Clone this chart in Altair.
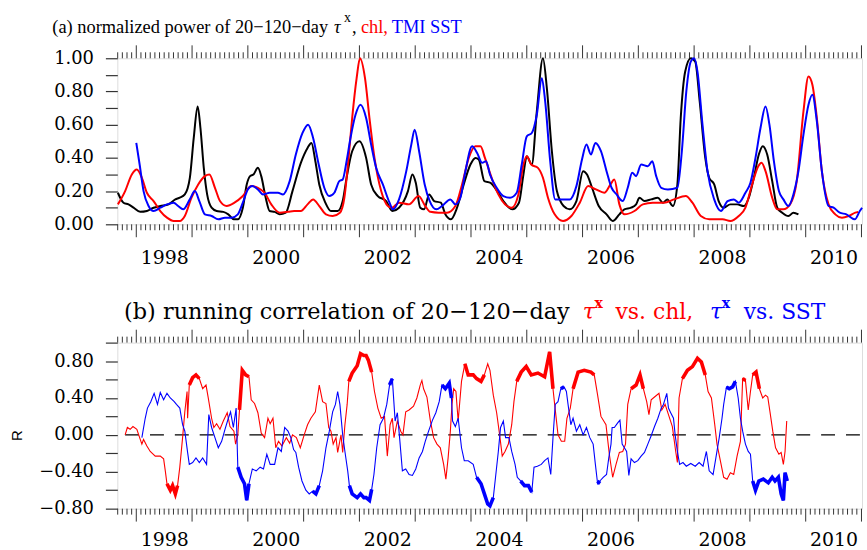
import altair as alt
import pandas as pd

# ---------------- panel (a): normalized power ----------------
a_taux = [(1997.67,0.19),(1997.77,0.13),(1997.86,0.12),(1997.95,0.10),(1998.07,0.075),(1998.19,0.08),(1998.31,0.10),
          (1998.43,0.11),(1998.58,0.12),(1998.70,0.15),(1998.78,0.16),(1998.87,0.18),(1998.96,0.28),(1999.03,0.52),
          (1999.10,0.71),(1999.15,0.58),(1999.21,0.34),(1999.27,0.18),(1999.35,0.10),(1999.44,0.08),(1999.56,0.075),
          (1999.65,0.06),(1999.75,0.03),(1999.82,0.03),(1999.91,0.10),(1999.98,0.24),(2000.04,0.29),(2000.10,0.30),
          (2000.18,0.34),(2000.24,0.29),(2000.32,0.16),(2000.39,0.08),(2000.48,0.075),(2000.57,0.06),(2000.68,0.07),
          (2000.80,0.20),(2000.95,0.37),(2001.07,0.46),(2001.14,0.49),(2001.21,0.38),(2001.28,0.24),(2001.39,0.13),
          (2001.49,0.08),(2001.61,0.08),(2001.70,0.14),(2001.77,0.28),(2001.87,0.44),(2002.00,0.50),(2002.12,0.40),
          (2002.21,0.24),(2002.33,0.17),(2002.48,0.14),(2002.59,0.08),(2002.71,0.10),(2002.87,0.20),(2002.95,0.30),
          (2003.01,0.25),(2003.09,0.10),(2003.16,0.09),(2003.25,0.18),(2003.34,0.14),(2003.46,0.13),(2003.54,0.06),
          (2003.64,0.03),(2003.75,0.10),(2003.87,0.24),(2003.99,0.36),(2004.08,0.40),(2004.14,0.39),(2004.24,0.26),
          (2004.35,0.25),(2004.47,0.20),(2004.58,0.14),(2004.74,0.09),(2004.86,0.13),(2004.94,0.30),(2005.00,0.41),
          (2005.09,0.36),(2005.18,0.68),(2005.29,1.00),(2005.36,0.82),(2005.45,0.44),(2005.54,0.20),(2005.66,0.11),
          (2005.77,0.09),(2005.89,0.14),(2006.01,0.32),(2006.08,0.30),(2006.17,0.22),(2006.29,0.11),(2006.43,0.06),
          (2006.54,0.02),(2006.66,0.06),(2006.75,0.09),(2006.87,0.10),(2006.96,0.12),(2007.02,0.16),(2007.11,0.14),
          (2007.23,0.15),(2007.35,0.16),(2007.44,0.13),(2007.52,0.15),(2007.62,0.11),(2007.70,0.24),(2007.76,0.64),
          (2007.84,0.92),(2007.94,1.00),(2008.02,0.98),(2008.10,0.74),(2008.20,0.40),(2008.27,0.28),(2008.36,0.24),
          (2008.44,0.14),(2008.53,0.10),(2008.65,0.12),(2008.77,0.12),(2008.89,0.11),(2008.98,0.16),(2009.07,0.28),
          (2009.16,0.42),(2009.23,0.47),(2009.31,0.42),(2009.40,0.26),(2009.49,0.10),(2009.58,0.07),(2009.69,0.05),
          (2009.78,0.07),(2009.87,0.06)]

a_chl = [(1997.67,0.12),(1997.80,0.20),(1997.92,0.30),(1998.01,0.33),(1998.10,0.28),(1998.19,0.19),(1998.31,0.14),
         (1998.43,0.08),(1998.55,0.04),(1998.67,0.02),(1998.78,0.02),(1998.87,0.05),(1998.99,0.16),(1999.11,0.24),
         (1999.23,0.29),(1999.31,0.30),(1999.41,0.22),(1999.50,0.14),(1999.62,0.11),(1999.76,0.13),(1999.91,0.17),
         (2000.06,0.23),(2000.18,0.22),(2000.30,0.19),(2000.42,0.12),(2000.57,0.07),(2000.72,0.075),(2000.83,0.08),
         (2000.95,0.08),(2001.07,0.12),(2001.17,0.15),(2001.28,0.11),(2001.40,0.06),(2001.52,0.05),(2001.65,0.07),
         (2001.73,0.16),(2001.80,0.38),(2001.87,0.64),(2001.95,0.88),(2002.01,1.00),(2002.10,0.88),(2002.18,0.64),
         (2002.27,0.40),(2002.39,0.20),(2002.51,0.11),(2002.58,0.10),(2002.71,0.13),(2002.89,0.12),(2003.06,0.17),
         (2003.18,0.11),(2003.27,0.075),(2003.42,0.07),(2003.57,0.07),(2003.72,0.11),(2003.84,0.24),(2003.96,0.40),
         (2004.08,0.47),(2004.17,0.47),(2004.25,0.40),(2004.37,0.28),(2004.49,0.18),(2004.61,0.12),(2004.73,0.10),
         (2004.85,0.18),(2004.94,0.36),(2005.00,0.41),(2005.08,0.36),(2005.20,0.34),(2005.29,0.28),(2005.38,0.16),
         (2005.50,0.06),(2005.65,0.02),(2005.80,0.05),(2005.95,0.13),(2006.10,0.23),(2006.24,0.21),(2006.39,0.19),
         (2006.50,0.24),(2006.57,0.27),(2006.66,0.12),(2006.75,0.06),(2006.93,0.08),(2007.08,0.12),(2007.26,0.13),
         (2007.46,0.13),(2007.64,0.15),(2007.85,0.17),(2007.97,0.13),(2008.12,0.05),(2008.27,0.03),(2008.51,0.03),
         (2008.65,0.02),(2008.80,0.05),(2008.92,0.10),(2009.04,0.24),(2009.15,0.35),(2009.21,0.37),(2009.28,0.32),
         (2009.40,0.16),(2009.49,0.09),(2009.60,0.09),(2009.72,0.12),(2009.84,0.26),(2009.96,0.68),(2010.05,0.89),
         (2010.12,0.84),(2010.20,0.64),(2010.29,0.32),(2010.41,0.12),(2010.53,0.06),(2010.65,0.04),(2010.77,0.05),
         (2010.89,0.07),(2010.94,0.075)]

a_sst = [(1998.00,0.49),(1998.06,0.36),(1998.13,0.20),(1998.22,0.11),(1998.31,0.08),(1998.43,0.10),(1998.55,0.12),
         (1998.67,0.13),(1998.75,0.11),(1998.84,0.09),(1998.96,0.15),(1999.05,0.20),(1999.13,0.14),(1999.23,0.06),
         (1999.35,0.05),(1999.47,0.03),(1999.59,0.04),(1999.71,0.04),(1999.82,0.06),(1999.91,0.13),(2000.00,0.21),
         (2000.08,0.23),(2000.18,0.21),(2000.27,0.18),(2000.39,0.19),(2000.54,0.19),(2000.63,0.18),(2000.75,0.26),
         (2000.86,0.42),(2000.98,0.55),(2001.08,0.60),(2001.17,0.52),(2001.27,0.36),(2001.37,0.22),(2001.46,0.17),
         (2001.55,0.19),(2001.64,0.26),(2001.70,0.27),(2001.77,0.38),(2001.84,0.52),(2001.93,0.66),(2002.02,0.72),
         (2002.12,0.64),(2002.21,0.48),(2002.30,0.34),(2002.42,0.24),(2002.54,0.13),(2002.60,0.09),(2002.71,0.15),
         (2002.84,0.32),(2002.93,0.48),(2002.99,0.57),(2003.07,0.44),(2003.17,0.24),(2003.26,0.14),(2003.38,0.09),
         (2003.48,0.11),(2003.63,0.15),(2003.72,0.12),(2003.81,0.16),(2003.90,0.32),(2004.02,0.47),(2004.11,0.43),
         (2004.20,0.37),(2004.27,0.38),(2004.34,0.30),(2004.46,0.22),(2004.58,0.17),(2004.70,0.16),(2004.82,0.19),
         (2004.91,0.36),(2005.00,0.53),(2005.09,0.55),(2005.18,0.66),(2005.27,0.88),(2005.33,0.74),(2005.42,0.38),
         (2005.51,0.15),(2005.63,0.15),(2005.77,0.15),(2005.89,0.23),(2005.99,0.39),(2006.07,0.48),(2006.15,0.42),
         (2006.23,0.49),(2006.33,0.44),(2006.43,0.32),(2006.52,0.22),(2006.61,0.18),(2006.72,0.14),(2006.81,0.22),
         (2006.89,0.31),(2006.96,0.29),(2007.05,0.36),(2007.17,0.35),(2007.25,0.38),(2007.32,0.29),(2007.41,0.22),
         (2007.53,0.21),(2007.70,0.22),(2007.78,0.44),(2007.86,0.80),(2007.94,0.98),(2008.00,1.00),(2008.06,0.92),
         (2008.15,0.60),(2008.24,0.32),(2008.36,0.15),(2008.48,0.08),(2008.60,0.14),(2008.71,0.15),(2008.80,0.13),
         (2008.92,0.19),(2009.01,0.25),(2009.10,0.40),(2009.19,0.58),(2009.28,0.71),(2009.35,0.60),(2009.43,0.38),
         (2009.52,0.20),(2009.60,0.15),(2009.69,0.11),(2009.78,0.18),(2009.87,0.32),(2009.96,0.54),(2010.05,0.72),
         (2010.12,0.78),(2010.20,0.62),(2010.29,0.32),(2010.41,0.11),(2010.50,0.10),(2010.61,0.07),(2010.73,0.06),
         (2010.88,0.03),(2010.97,0.08),(2011.01,0.10)]

# ---------------- panel (b): running correlation ----------------
b_chl = [(1997.80,0.00),(1997.84,0.08),(1997.89,0.06),(1997.94,0.09),(1998.01,0.06),(1998.06,-0.03),(1998.10,-0.10),
         (1998.13,-0.05),(1998.19,-0.12),(1998.25,-0.18),(1998.34,-0.23),(1998.43,-0.23),(1998.49,-0.26),(1998.52,-0.39),
         (1998.55,-0.53),(1998.61,-0.60),(1998.65,-0.55),(1998.70,-0.64),(1998.74,-0.55),(1998.78,-0.35),(1998.83,-0.03),
         (1998.87,0.25),(1998.91,0.47),(1998.92,0.18),(1998.95,0.54),(1999.01,0.62),(1999.07,0.65),(1999.13,0.61),
         (1999.19,0.50),(1999.25,0.54),(1999.29,0.40),(1999.35,0.18),(1999.39,0.08),(1999.44,0.12),(1999.50,0.06),
         (1999.56,0.15),(1999.63,0.24),(1999.68,0.09),(1999.75,0.04),(1999.78,-0.10),(1999.82,0.00),(1999.85,0.27),
         (1999.90,0.70),(1999.96,0.65),(2000.02,0.63),(2000.06,0.38),(2000.12,0.34),(2000.18,0.24),(2000.24,0.02),
         (2000.30,-0.03),(2000.36,0.18),(2000.40,0.12),(2000.45,0.18),(2000.50,-0.14),(2000.55,-0.07),(2000.61,-0.12),
         (2000.69,-0.03),(2000.75,-0.09),(2000.80,0.00),(2000.87,-0.03),(2000.94,-0.14),(2001.01,0.00),(2001.07,0.11),
         (2001.13,0.18),(2001.21,0.25),(2001.28,0.54),(2001.34,0.36),(2001.40,0.34),(2001.45,0.08),(2001.49,0.04),
         (2001.53,-0.10),(2001.58,-0.03),(2001.61,-0.19),(2001.67,0.00),(2001.70,-0.19),(2001.74,0.11),(2001.78,0.33),
         (2001.81,0.58),(2001.87,0.67),(2001.96,0.75),(2002.02,0.88),(2002.08,0.86),(2002.12,0.86),(2002.16,0.81),
         (2002.22,0.68),(2002.27,0.47),(2002.33,0.29),(2002.39,0.18),(2002.45,0.20),(2002.50,-0.23),(2002.55,0.11),
         (2002.59,0.18),(2002.62,-0.03),(2002.68,0.15),(2002.74,0.04),(2002.78,0.00),(2002.83,0.25),(2002.89,0.27),
         (2002.97,0.31),(2003.03,0.40),(2003.09,0.54),(2003.12,0.59),(2003.15,0.50),(2003.21,0.41),(2003.27,0.16),
         (2003.33,-0.03),(2003.39,-0.10),(2003.45,-0.14),(2003.51,-0.32),(2003.55,-0.48),(2003.59,-0.25),(2003.63,0.04),
         (2003.66,0.33),(2003.69,0.50),(2003.73,0.47),(2003.77,0.15),(2003.83,0.58),(2003.89,0.77),(2003.95,0.65),
         (2004.04,0.65),(2004.10,0.61),(2004.18,0.58),(2004.24,0.65),(2004.30,0.77),(2004.34,0.70),(2004.40,0.43),
         (2004.46,0.24),(2004.52,-0.03),(2004.56,-0.23),(2004.61,-0.18),(2004.67,-0.10),(2004.73,0.11),(2004.77,0.36),
         (2004.82,0.58),(2004.90,0.68),(2004.99,0.74),(2005.08,0.65),(2005.20,0.67),(2005.32,0.63),(2005.41,0.90),
         (2005.47,0.50),(2005.50,0.33),(2005.56,0.00),(2005.62,-0.07),(2005.68,-0.07),(2005.72,0.18),(2005.78,0.29),
         (2005.83,0.50),(2005.92,0.68),(2006.03,0.70),(2006.15,0.68),(2006.21,0.65),(2006.27,0.43),(2006.33,0.20),
         (2006.42,0.11),(2006.48,-0.21),(2006.54,-0.46),(2006.60,-0.32),(2006.66,-0.19),(2006.72,-0.18),(2006.77,-0.10),
         (2006.81,0.33),(2006.87,0.50),(2006.96,0.54),(2007.03,0.65),(2007.09,0.50),(2007.15,0.36),(2007.19,0.22),
         (2007.23,0.38),(2007.29,0.41),(2007.37,0.45),(2007.42,0.27),(2007.48,0.33),(2007.54,0.22),(2007.61,0.09),
         (2007.67,-0.18),(2007.70,-0.30),(2007.73,0.40),(2007.79,0.61),(2007.88,0.70),(2007.97,0.74),(2008.06,0.83),
         (2008.13,0.79),(2008.20,0.65),(2008.25,0.47),(2008.31,0.40),(2008.37,0.11),(2008.41,-0.10),(2008.47,-0.28),
         (2008.53,-0.46),(2008.59,-0.48),(2008.65,-0.41),(2008.71,-0.43),(2008.77,-0.23),(2008.83,-0.07),(2008.87,0.61),
         (2008.92,0.59),(2008.97,0.27),(2009.01,0.47),(2009.05,0.65),(2009.11,0.68),(2009.17,0.50),(2009.23,0.40),
         (2009.28,0.43),(2009.32,0.41),(2009.36,0.25),(2009.41,0.04),(2009.46,-0.14),(2009.52,-0.21),(2009.56,-0.19),
         (2009.60,-0.32),(2009.63,-0.18),(2009.66,0.15)]

b_sst = [(1998.10,-0.03),(1998.16,0.18),(1998.20,0.29),(1998.26,0.36),(1998.32,0.45),(1998.38,0.33),(1998.43,0.46),
         (1998.49,0.38),(1998.55,0.45),(1998.61,0.40),(1998.68,0.36),(1998.72,0.33),(1998.78,0.29),(1998.83,0.11),
         (1998.87,0.04),(1998.92,-0.19),(1998.95,-0.32),(1999.01,-0.30),(1999.07,-0.25),(1999.13,-0.30),(1999.19,-0.25),
         (1999.26,-0.32),(1999.30,0.22),(1999.35,0.08),(1999.41,-0.03),(1999.47,-0.14),(1999.53,-0.07),(1999.59,0.06),
         (1999.65,0.18),(1999.69,0.25),(1999.74,0.08),(1999.79,0.29),(1999.82,-0.35),(1999.88,-0.46),(1999.94,-0.53),
         (1999.98,-0.71),(2000.02,-0.53),(2000.08,-0.37),(2000.15,-0.39),(2000.22,-0.35),(2000.28,-0.37),(2000.34,-0.21),
         (2000.40,-0.32),(2000.48,-0.32),(2000.54,-0.14),(2000.60,-0.18),(2000.66,0.08),(2000.72,0.04),(2000.77,-0.03),
         (2000.82,-0.16),(2000.86,-0.19),(2000.91,-0.35),(2000.97,-0.50),(2001.04,-0.60),(2001.10,-0.64),(2001.16,-0.61),
         (2001.22,-0.64),(2001.28,-0.55),(2001.34,-0.39),(2001.40,-0.14),(2001.46,0.04),(2001.52,0.25),(2001.57,0.33),
         (2001.61,0.47),(2001.65,0.33),(2001.70,0.00),(2001.74,-0.18),(2001.79,-0.39),(2001.82,-0.55),(2001.87,-0.64),
         (2001.96,-0.68),(2002.02,-0.64),(2002.08,-0.68),(2002.12,-0.68),(2002.18,-0.71),(2002.22,-0.59),(2002.26,-0.43),
         (2002.31,-0.14),(2002.37,0.11),(2002.43,0.18),(2002.49,0.33),(2002.54,0.54),(2002.59,0.61),(2002.64,0.15),
         (2002.68,0.24),(2002.72,-0.03),(2002.77,-0.39),(2002.83,-0.37),(2002.89,-0.43),(2002.95,-0.44),(2003.01,-0.37),
         (2003.07,-0.25),(2003.13,-0.18),(2003.18,-0.07),(2003.24,0.04),(2003.31,0.16),(2003.37,0.24),(2003.43,0.36),
         (2003.48,0.54),(2003.54,0.50),(2003.61,0.56),(2003.65,0.40),(2003.67,0.15),(2003.72,0.09),(2003.77,0.18),
         (2003.83,-0.14),(2003.88,-0.28),(2003.95,-0.28),(2004.04,-0.32),(2004.10,-0.46),(2004.18,-0.53),(2004.24,-0.64),
         (2004.30,-0.75),(2004.34,-0.77),(2004.40,-0.68),(2004.44,-0.46),(2004.49,-0.18),(2004.53,0.08),(2004.58,0.15),
         (2004.62,-0.03),(2004.68,-0.03),(2004.73,-0.18),(2004.79,-0.32),(2004.83,-0.46),(2004.89,-0.50),(2004.96,-0.55),
         (2005.03,-0.55),(2005.09,-0.62),(2005.13,-0.35),(2005.19,-0.34),(2005.26,-0.32),(2005.32,-0.28),(2005.38,-0.25),
         (2005.43,-0.43),(2005.47,-0.03),(2005.51,0.33),(2005.56,0.36),(2005.61,0.50),(2005.67,0.52),(2005.71,0.47),
         (2005.74,0.33),(2005.79,0.11),(2005.83,0.18),(2005.89,0.04),(2005.95,0.11),(2006.01,0.00),(2006.07,0.08),
         (2006.13,-0.03),(2006.19,-0.10),(2006.23,-0.32),(2006.27,-0.53),(2006.31,-0.50),(2006.37,-0.46),(2006.43,-0.43),
         (2006.47,-0.25),(2006.51,-0.10),(2006.53,0.08),(2006.57,0.08),(2006.63,0.13),(2006.67,0.16),(2006.71,-0.10),
         (2006.75,-0.14),(2006.79,-0.18),(2006.83,-0.44),(2006.87,-0.26),(2006.93,-0.30),(2006.99,-0.28),(2007.05,-0.23),
         (2007.11,-0.19),(2007.17,-0.10),(2007.23,-0.01),(2007.29,0.09),(2007.35,0.18),(2007.41,0.29),(2007.45,0.33),
         (2007.51,0.45),(2007.54,0.29),(2007.58,0.24),(2007.63,0.18),(2007.66,0.00),(2007.70,-0.18),(2007.74,-0.32),
         (2007.80,-0.30),(2007.86,-0.34),(2007.94,-0.31),(2008.02,-0.34),(2008.09,-0.30),(2008.16,-0.34),(2008.22,-0.18),
         (2008.27,-0.39),(2008.34,-0.43),(2008.39,-0.25),(2008.45,-0.03),(2008.50,0.18),(2008.53,0.33),(2008.58,0.52),
         (2008.63,0.50),(2008.69,0.52),(2008.74,0.58),(2008.79,0.40),(2008.83,0.18),(2008.87,0.04),(2008.92,-0.10),
         (2008.97,-0.18),(2009.01,-0.21),(2009.05,-0.50),(2009.10,-0.60),(2009.16,-0.50),(2009.24,-0.48),(2009.33,-0.52),
         (2009.40,-0.46),(2009.45,-0.50),(2009.51,-0.46),(2009.56,-0.64),(2009.60,-0.71),(2009.63,-0.41),(2009.67,-0.50)]

# periods drawn with a thick line (significant correlation)
chl_thick = [(1998.55,1998.74),(1998.95,1999.13),(1999.85,2000.02),(2001.81,2002.22),(2003.89,2004.24),
             (2004.82,2005.47),(2005.83,2006.21),(2006.87,2007.09),(2007.79,2008.20),(2008.87,2008.92),(2009.05,2009.17)]
sst_thick = [(1999.82,2000.02),(2001.16,2001.28),(2001.82,2002.22),(2002.54,2002.59),(2003.48,2003.65),
             (2004.10,2004.40),(2004.89,2005.09),(2005.61,2005.67),(2006.27,2006.31),(2008.58,2008.74),(2009.05,2009.67)]

year_labels = [1998, 2000, 2002, 2004, 2006, 2008, 2010]
ya_ticks = [i / 10 for i in range(11)]
yb_ticks = [round(-0.8 + i * 0.2, 1) for i in range(10)]

# ---------------- helpers ----------------
W, H = 749, 167
XDOM = [1997.66, 2011.01]
RED, BLUE = "#ff0000", "#0000ff"
SERIF = "DejaVu Serif"


def to_df(pts):
    return pd.DataFrame(pts, columns=["year", "val"])


def thick_df(pts, ranges):
    rows = []
    for k, (a, b) in enumerate(ranges):
        for y, v in pts:
            if a - 1e-9 <= y <= b + 1e-9:
                rows.append({"year": y, "val": v, "seg": k})
    return pd.DataFrame(rows)


xscale = alt.Scale(domain=XDOM, nice=False, zero=False)


def xaxis(pad):
    return alt.Axis(values=[y + 0.5 for y in year_labels], labelExpr="floor(datum.value)",
                    ticks=False, tickSize=0, domain=False, grid=False, title=None,
                    labelFont=SERIF, labelFontSize=19, labelColor="black", labelPadding=pad,
                    labelFlush=False, labelOverlap=False)


xax_a = xaxis(24)
xax_b = xaxis(22)

yscale_a = alt.Scale(domain=[0, 1], nice=False, zero=False)
yscale_b = alt.Scale(domain=[-0.8, 1.0], nice=False, zero=False)

yax_a = alt.Axis(values=ya_ticks,
                 labelExpr="round(datum.value*10) % 2 == 0 ? format(datum.value, '.2f') : ''",
                 tickSize=12, tickColor="#333", tickWidth=1.2, domain=False, grid=False, title=None,
                 labelFont=SERIF, labelFontSize=18, labelColor="black", labelPadding=12,
                 labelFlush=False, labelOverlap=False)
yax_b = alt.Axis(values=yb_ticks,
                 labelExpr="round(datum.value*10) % 4 == 0 ? format(datum.value, '.2f') : ''",
                 tickSize=12, tickColor="#333", tickWidth=1.2, domain=False, grid=False,
                 labelFont=SERIF, labelFontSize=18, labelColor="black", labelPadding=12,
                 labelFlush=False, labelOverlap=False,
                 title="R", titleFont="Liberation Sans", titleFontSize=15, titleFontWeight="normal",
                 titleColor="black", titleX=-96, titleY=93, titleAngle=270, titleAlign="center",
                 titleBaseline="alphabetic")

major = pd.DataFrame({"t": list(range(1998, 2012))})
minor = pd.DataFrame({"t": [y + m / 12 for y in range(1997, 2011) for m in range(1, 12)
                            if XDOM[0] <= y + m / 12 <= XDOM[1]]})
one = pd.DataFrame({"a": [0]})


def tick_layers(xax):
    out = []
    for df, L in ((major, 13), (minor, 6)):
        for y0, y1 in ((0, -L), (H, H + L)):
            out.append(alt.Chart(df).mark_rule(color="#333", strokeWidth=1).encode(
                x=alt.X("t:Q", scale=xscale, axis=xax), y=alt.value(y0), y2=alt.value(y1)))
    return out


def txt(s, x, y, color="black", font=SERIF, size=18, align="left", style="normal", weight="normal"):
    return alt.Chart(one).mark_text(text=s, align=align, baseline="alphabetic", font=font,
                                    fontSize=size, color=color, fontStyle=style,
                                    fontWeight=weight).encode(x=alt.value(x), y=alt.value(y))


anchor = alt.Chart(one).mark_rule(strokeWidth=0, opacity=0).encode(
    x=alt.value(-117), x2=alt.value(-117), y=alt.value(-56), y2=alt.value(-56))

# ---------------- panel (a) ----------------
def aline(pts, color):
    return alt.Chart(to_df(pts)).mark_line(color=color, strokeWidth=2, interpolate="monotone").encode(
        x=alt.X("year:Q", scale=xscale, axis=xax_a),
        y=alt.Y("val:Q", scale=yscale_a, axis=yax_a))


TS = "Liberation Serif"
title_a = [
    txt("(a) normalized power of 20\u2212120\u2212day", 212, -25, font=TS, size=18.5, align="right"),
    txt("\u03c4", 218, -25, font=TS, size=18.5, style="italic"),
    txt("x", 228, -36, font=TS, size=14),
    txt(",", 236, -25, font=TS, size=18.5),
    txt("chl,", 245, -25, color=RED, font=TS, size=18.5),
    txt("TMI SST", 276, -25, color=BLUE, font=TS, size=18.5),
]

panel_a = alt.layer(
    anchor, *tick_layers(xax_a),
    aline(a_taux, "black"), aline(a_chl, RED), aline(a_sst, BLUE),
    *title_a,
).properties(width=W, height=H)

# ---------------- panel (b) ----------------
def bline(pts, color, width):
    return alt.Chart(to_df(pts)).mark_line(color=color, strokeWidth=width).encode(
        x=alt.X("year:Q", scale=xscale, axis=xax_b),
        y=alt.Y("val:Q", scale=yscale_b, axis=yax_b))


def bthick(pts, ranges, color):
    return alt.Chart(thick_df(pts, ranges)).mark_line(color=color, strokeWidth=3.6).encode(
        x=alt.X("year:Q", scale=xscale, axis=xax_b),
        y=alt.Y("val:Q", scale=yscale_b, axis=yax_b),
        detail="seg:N")


zero = alt.Chart(pd.DataFrame({"x0": [1997.80], "x1": [XDOM[1]], "r": [0.0]})).mark_rule(
    color="black", strokeWidth=1.4, strokeDash=[14, 11]).encode(
    x=alt.X("x0:Q", scale=xscale, axis=xax_b), x2="x1:Q",
    y=alt.Y("r:Q", scale=yscale_b, axis=yax_b))

title_b = [
    txt("(b) running correlation of 20\u2212120\u2212day", 455, -24, size=22.5, align="right"),
    txt("\u03c4", 468, -24, color=RED, size=22, style="italic"),
    txt("x", 480, -35, color=RED, size=14, weight="bold"),
    txt("vs. chl,", 501, -24, color=RED, size=22),
    txt("\u03c4", 596, -24, color=BLUE, size=22, style="italic"),
    txt("x", 608, -35, color=BLUE, size=14, weight="bold"),
    txt("vs. SST", 630, -24, color=BLUE, size=22),
]

panel_b = alt.layer(
    *tick_layers(xax_b), zero,
    bline(b_chl, RED, 1.1), bthick(b_chl, chl_thick, RED),
    bline(b_sst, BLUE, 1.1), bthick(b_sst, sst_thick, BLUE),
    *title_b,
).properties(width=W, height=H)

chart = alt.vconcat(panel_a, panel_b, spacing=119, bounds="flush").properties(
    padding=0
).configure_view(stroke="#222", strokeWidth=1.6).configure(background="white")

chart.save("out.html", embed_options={"renderer": "svg", "actions": False})
